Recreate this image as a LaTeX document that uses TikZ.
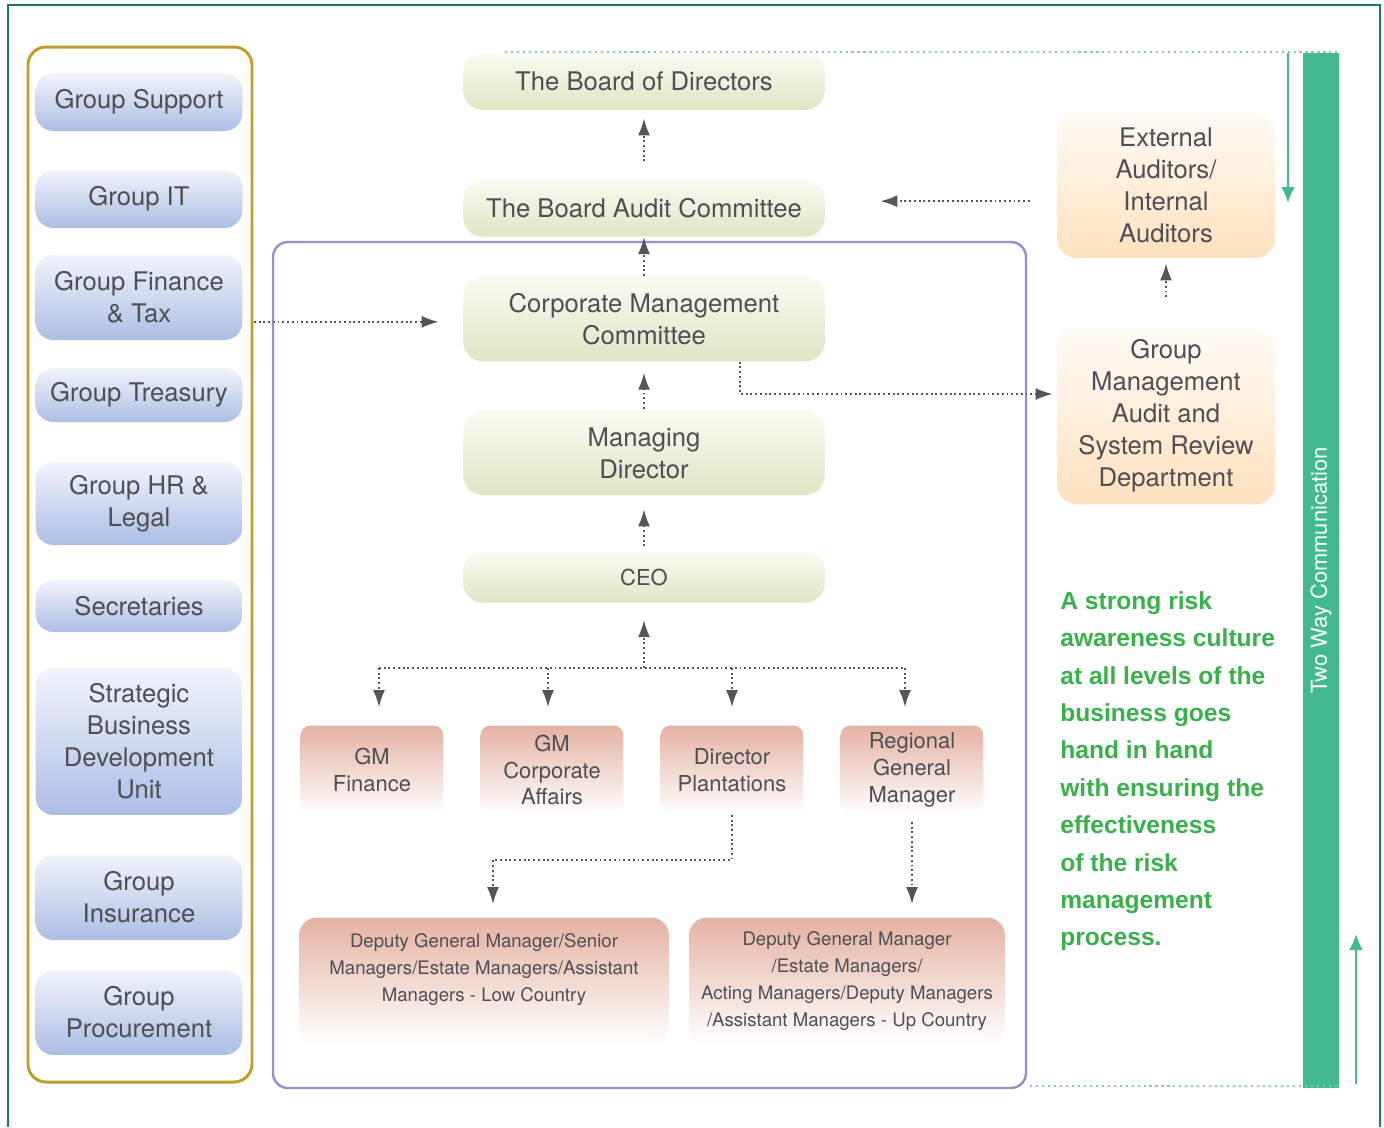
\documentclass[tikz,border=0pt]{standalone}
\usepackage{fontspec}
\setmainfont{TeX Gyre Heros}
\newfontfamily\notefont{Liberation Sans}
\usepackage{tikz}
\usetikzlibrary{arrows.meta, positioning}
\usepackage{xcolor}

\definecolor{txtgray}{RGB}{78,78,84}
\definecolor{grptop}{RGB}{242,244,252}
\definecolor{grpbot}{RGB}{172,190,228}
\definecolor{lvltop}{RGB}{250,251,242}
\definecolor{lvlbot}{RGB}{222,230,196}
\definecolor{mgrtop}{RGB}{228,178,162}
\definecolor{audtop}{RGB}{255,251,246}
\definecolor{audbot}{RGB}{255,225,190}
\definecolor{goldline}{RGB}{190,160,40}
\definecolor{purpleline}{RGB}{148,146,200}
\definecolor{framegreen}{RGB}{30,120,90}
\definecolor{bargreen}{RGB}{67,185,143}
\definecolor{notegreen}{RGB}{58,176,74}
\definecolor{guide}{RGB}{140,195,205}
\definecolor{arrgray}{RGB}{85,85,90}

\begin{document}
\begin{tikzpicture}[
  x=0.02cm, y=-0.02cm,
  big/.style={font=\fontsize{14.6}{18.2}\selectfont},
  small/.style={font=\fontsize{12.5}{15.3}\selectfont},
  tiny/.style={font=\fontsize{10.6}{15.3}\selectfont},
  base/.style={align=center, text=txtgray, inner sep=0pt},
  grp/.style={base, big, rounded corners=0.36cm, minimum width=4.14cm,
              top color=grptop, bottom color=grpbot},
  lvl/.style={base, big, rounded corners=0.4cm, minimum width=7.24cm,
              top color=lvltop, bottom color=lvlbot},
  mgr/.style={base, small, rounded corners=0.2cm, minimum width=2.86cm, minimum height=1.78cm,
              top color=mgrtop, bottom color=white},
  staff/.style={base, tiny, rounded corners=0.36cm, minimum height=2.54cm,
                top color=mgrtop, bottom color=white},
  aud/.style={base, big, rounded corners=0.4cm, minimum width=4.36cm,
              top color=audtop, bottom color=audbot},
  arr/.style={-{Latex[length=0.34cm, width=0.24cm]}, arrgray, line width=1.1pt,
              dash pattern=on 1.1pt off 1.6pt},
  dots/.style={arrgray, line width=1.1pt, dash pattern=on 1.1pt off 1.6pt},
  garr/.style={-{Latex[length=0.32cm, width=0.28cm]}, bargreen, line width=1.5pt},
  guideline/.style={guide, line width=1.2pt, dash pattern=on 1.2pt off 2.2pt}
]
  \useasboundingbox (0,0) rectangle (1384,1127);

  % outer frame, open at the bottom
  \draw[framegreen, line width=1.5pt] (8,1127) -- (8,5) -- (1380,5) -- (1380,1127);

  % group functions
  \draw[goldline, line width=1.7pt, rounded corners=0.36cm] (28,47) rectangle (252,1082);
  \node[grp, minimum height=1.16cm] (sup) at (139,102) {Group Support};
  \node[grp, minimum height=1.16cm] (it) at (139,199) {Group IT};
  \node[grp, minimum height=1.7cm] (fin) at (139,297.5) {Group Finance\\\& Tax};
  \node[grp, minimum height=1.08cm] (treas) at (139,395) {Group Treasury};
  \node[grp, minimum height=1.66cm] (hr) at (139,503.5) {Group HR \&\\Legal};
  \node[grp, minimum height=1.04cm] (sec) at (139,606) {Secretaries};
  \node[grp, minimum height=2.94cm] (sbdu) at (139,741.5) {Strategic\\Business\\Development\\Unit};
  \node[grp, minimum height=1.7cm] (ins) at (139,897.5) {Group\\Insurance};
  \node[grp, minimum height=1.7cm] (proc) at (139,1012.5) {Group\\Procurement};

  % management panel
  \draw[purpleline, line width=1.4pt, rounded corners=0.3cm] (273,242) rectangle (1026,1088);

  % reporting line
  \node[lvl, minimum height=1.14cm] (brd) at (644,81.5) {The Board of Directors};
  \node[lvl, minimum height=1.14cm, below=1.38cm of brd] (audit) {The Board Audit Committee};
  \node[lvl, minimum height=1.7cm, below=0.78cm of audit] (cmc) {Corporate Management\\Committee};
  \node[lvl, minimum height=1.68cm, below=0.98cm of cmc] (md) {Managing\\Director};
  \node[lvl, small, minimum height=1.02cm, below=1.12cm of md] (ceo) {CEO};

  \node[mgr] (gmfin) at (372,770) {GM\\Finance};
  \node[mgr] (gmca) at (552,770) {GM\\Corporate\\Affairs};
  \node[mgr] (dirpl) at (732,770) {Director\\Plantations};
  \node[mgr] (rgm) at (912,770) {Regional\\General\\Manager};

  \node[staff, minimum width=7.4cm] (dgmlow) at (484,981)
    {Deputy General Manager/Senior\\Managers/Estate Managers/Assistant\\Managers - Low Country\\\mbox{}};
  \node[staff, minimum width=6.32cm] (dgmup) at (847,981)
    {Deputy General Manager\\/Estate Managers/\\Acting Managers/Deputy Managers\\/Assistant Managers - Up Country};

  % auditors
  \node[aud, minimum height=2.92cm] (extaud) at (1166,185) {External\\Auditors/\\Internal\\Auditors};
  \node[aud, minimum height=3.54cm] (gmas) at (1166,416) {Group\\Management\\Audit and\\System Review\\Department};

  \node[anchor=north west, align=left, text=notegreen, inner sep=0pt,
        font=\notefont\bfseries\fontsize{14}{21.3}\selectfont] (note) at (1060,591)
    {A strong risk\\awareness culture\\at all levels of the\\business goes\\hand in hand\\with ensuring the\\effectiveness\\of the risk\\management\\process.};

  % two way communication
  \node[rotate=90, fill=bargreen, text=white, inner sep=0pt, minimum width=20.7cm,
        minimum height=0.72cm, font=\fontsize{12.5}{14}\selectfont] (comm) at (1321,570.5)
    {Two Way Communication};
  \coordinate (gtopl) at (505,52);
  \coordinate (gtopr) at (1340,52);
  \coordinate (gbotl) at (1030,1086);
  \coordinate (gbotr) at (1340,1086);
  \draw[guideline] (gtopl) -- (gtopr);
  \draw[guideline] (gbotl) -- (gbotr);
  \coordinate (downa) at (1288,53);
  \coordinate (downb) at (1288,203);
  \coordinate (upa) at (1356,1084);
  \coordinate (upb) at (1356,934);
  \draw[garr] (downa) -- (downb);
  \draw[garr] (upa) -- (upb);

  % connectors
  \draw[arr, shorten <=0.36cm, shorten >=0.16cm] (audit) -- (brd);
  \draw[arr] (cmc) -- (audit);
  \draw[arr, shorten <=0.04cm, shorten >=0.22cm] (md) -- (cmc);
  \draw[arr, shorten <=0.1cm, shorten >=0.28cm] (ceo) -- (md);

  \coordinate (bus) at (644,668);
  \draw[arr, shorten >=0.34cm] (bus) -- (ceo);
  \draw[dots] ([xshift=0.14cm]bus -| gmfin) -- ([xshift=-0.14cm]bus -| rgm);
  \draw[arr, shorten >=0.36cm] ([xshift=0.14cm]bus -| gmfin) -- ([xshift=0.14cm]gmfin.north);
  \draw[arr, shorten >=0.36cm] ([xshift=-0.08cm]bus -| gmca) -- ([xshift=-0.08cm]gmca.north);
  \draw[arr, shorten >=0.36cm] (bus -| dirpl) -- (dirpl.north);
  \draw[arr, shorten >=0.36cm] ([xshift=-0.14cm]bus -| rgm) -- ([xshift=-0.14cm]rgm.north);

  \draw[arr, shorten <=0.22cm, shorten >=0.48cm] ([yshift=-0.06cm]fin.east |- cmc) -- ([yshift=-0.06cm]cmc.west);
  \draw[arr, shorten <=0.54cm, shorten >=1.1cm] ([yshift=0.14cm]extaud.west |- audit) -- ([yshift=0.14cm]audit.east);
  \draw[arr, shorten <=0.6cm, shorten >=0.1cm] (gmas) -- (extaud);
  \draw[arr, shorten >=0.08cm] ([xshift=1.92cm]cmc.south) |- ([yshift=0.44cm]gmas.west);
  \draw[arr, shorten >=0.26cm] (dirpl.south) -- ++(0,45) -| ([xshift=0.18cm]dgmlow.north);
  \draw[arr, shorten <=0.14cm, shorten >=0.26cm] (rgm.south) -- (rgm.south |- dgmup.north);
\end{tikzpicture}
\end{document}
